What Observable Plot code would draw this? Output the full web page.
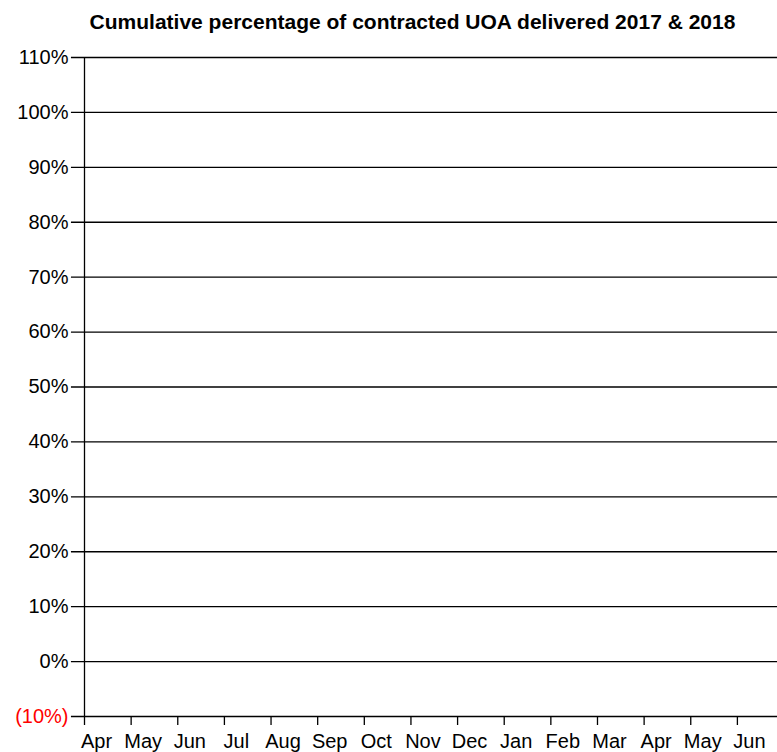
<!DOCTYPE html>
<html>
<head>
<meta charset="utf-8">
<script src="https://cdn.jsdelivr.net/npm/d3@7"></script>
<script src="https://cdn.jsdelivr.net/npm/@observablehq/plot@0.6"></script>
<style>
  html, body { margin: 0; padding: 0; background: #fff; }
  #title { box-sizing: border-box; height: 40px; padding-top: 11px; padding-left: 48px; text-align: center;
           font: bold 21px "Liberation Sans", Arial, sans-serif; line-height: 22px; color: #000; white-space: nowrap; }
</style>
</head>
<body>
<div id="title">Cumulative percentage of contracted UOA delivered 2017 &amp; 2018</div>
<div id="chart"></div>
<script>
const months = ["Apr","May","Jun","Jul","Aug","Sep","Oct","Nov","Dec","Jan","Feb","Mar","Apr","May","Jun"];
const yTicks = [-0.1, 0, 0.1, 0.2, 0.3, 0.4, 0.5, 0.6, 0.7, 0.8, 0.9, 1.0, 1.1];
const series2017 = [];
const series2018 = [];

const monthIdx = months.map((m, i) => i);
const fmt = v => v < 0 ? `(${Math.round(-v * 100)}%)` : `${Math.round(v * 100)}%`;
const font = "Liberation Sans, Arial, sans-serif";

const chart = Plot.plot({
  width: 777,
  height: 712,
  marginLeft: 84,
  marginRight: 0,
  marginTop: 17,
  marginBottom: 36,
  style: { fontFamily: font, background: "#fff", overflow: "visible" },
  x: { type: "linear", domain: [0, 14.86], axis: null },
  y: { type: "linear", domain: [-0.1, 1.1], axis: null },
  marks: [
    // horizontal gridlines (extend left as tick marks)
    Plot.ruleY(yTicks, { y: d => d, x1: -0.28, x2: 14.86, stroke: "black", strokeWidth: 1.3 }),
    // vertical axis line
    Plot.ruleX([0], { x: d => d, y1: -0.1, y2: 1.1, stroke: "black", strokeWidth: 1.3 }),
    // x tick marks below the axis
    Plot.ruleX(monthIdx, { x: d => d, y1: -0.1, y2: -0.1164, stroke: "black", strokeWidth: 1.3 }),
    // y labels
    Plot.text(yTicks, { x: 0, y: d => d, text: fmt, dx: -16, textAnchor: "end",
      fill: d => d < 0 ? "#ff0000" : "#000", fontSize: 20, fontFamily: font }),
    // x labels
    Plot.text(monthIdx, { x: d => d, y: -0.1, text: d => months[d], dx: 12, dy: 17, lineAnchor: "top",
      fill: "#000", fontSize: 20, fontFamily: font }),
    // data series (none delivered yet)
    Plot.line(series2017, { x: "month", y: "value", stroke: "#1f4e79" }),
    Plot.line(series2018, { x: "month", y: "value", stroke: "#c00000" })
  ]
});
document.getElementById("chart").appendChild(chart);
</script>
</body>
</html>
